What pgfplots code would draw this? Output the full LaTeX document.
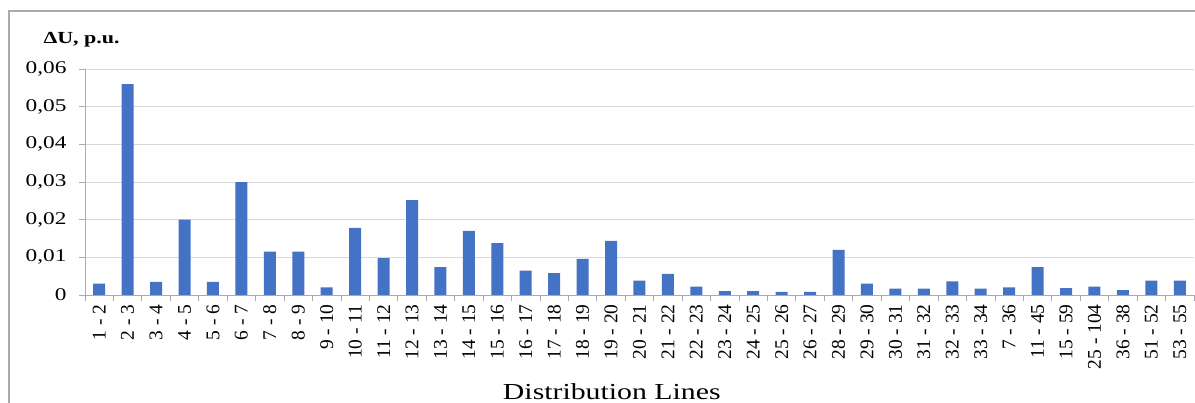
\documentclass[border=0pt]{standalone}
\usepackage{pgfplots}
\pgfplotsset{compat=1.18}
\usepackage{fontspec}
\setmainfont{Liberation Serif}
\usepackage{graphicx}
\definecolor{barblue}{RGB}{68,114,196}
\definecolor{gridgray}{RGB}{217,217,217}
\definecolor{axgray}{RGB}{170,170,170}
\newcommand\hs[1]{\scalebox{1.3}[1]{#1}}
\begin{document}
\begin{tikzpicture}
\draw[color=axgray, line width=1.2bp] (9bp,0bp) -- (9bp,392bp) -- (1195bp,392bp);
\begin{axis}[
  at={(85bp,108bp)}, anchor=south west,
  scale only axis, width=1109bp, height=226bp,
  xmin=-0.5, xmax=38.5, ymin=0, ymax=0.06,
  axis lines*=left,
  axis line style={axgray, line width=0.8bp},
  ybar, bar width=12bp,
  xtick={0,...,38},
  xticklabels={1 - 2,2 - 3,3 - 4,4 - 5,5 - 6,6 - 7,7 - 8,8 - 9,9 - 10,10 - 11,11 - 12,12 - 13,13 - 14,14 - 15,15 - 16,16 - 17,17 - 18,18 - 19,19 - 20,20 - 21,21 - 22,22 - 23,23 - 24,24 - 25,25 - 26,26 - 27,28 - 29,29 - 30,30 - 31,31 - 32,32 - 33,33 - 34,7 - 36,11 - 45,15 - 59,25 - 104,36 - 38,51 - 52,53 - 55},
  minor xtick={-0.5,0.5,...,38.5},
  major x tick style={draw=none},
  minor x tick style={axgray, line width=0.8bp},
  minor tick length=6bp,
  major tick length=6bp,
  tick align=outside,
  y tick style={axgray, line width=0.8bp},
  scaled y ticks=false,
  ytick={0,0.01,0.02,0.03,0.04,0.05,0.06},
  yticklabels={{\hs{0}},{\hs{0,01}},{\hs{0,02}},{\hs{0,03}},{\hs{0,04}},{\hs{0,05}},{\hs{0,06}}},
  ymajorgrids, grid style={gridgray, line width=0.8bp},
  tick label style={font=\fontsize{18}{20}\selectfont},
  yticklabel style={xshift=-9bp},
  xticklabel style={rotate=90, anchor=east, font=\fontsize{19.5}{22}\selectfont},
  xlabel={\hs{Distribution Lines}},
  xlabel style={font=\fontsize{23}{26}\selectfont, anchor=base, at={(axis description cs:0.475,0)}, yshift=-104bp},
]
\addplot[fill=barblue, draw=none] coordinates {
(0,0.003) (1,0.056) (2,0.0035) (3,0.020) (4,0.0035) (5,0.030) (6,0.0115) (7,0.0115)
(8,0.002) (9,0.0178) (10,0.0098) (11,0.0252) (12,0.0074) (13,0.017) (14,0.0138)
(15,0.0065) (16,0.0058) (17,0.0096) (18,0.0144) (19,0.0038) (20,0.0056) (21,0.0022)
(22,0.001) (23,0.001) (24,0.0008) (25,0.0008) (26,0.012) (27,0.003) (28,0.0017)
(29,0.0017) (30,0.0036) (31,0.0017) (32,0.002) (33,0.0074) (34,0.0018) (35,0.0022)
(36,0.0013) (37,0.0038) (38,0.0038)};
\end{axis}
\node[anchor=base west, font=\bfseries\fontsize{17}{20}\selectfont] at (40bp,359bp) {\hs{ΔU, p.u.}};
\pgfresetboundingbox
\path[use as bounding box] (0bp,0bp) rectangle (1195bp,403bp);
\end{tikzpicture}
\end{document}
